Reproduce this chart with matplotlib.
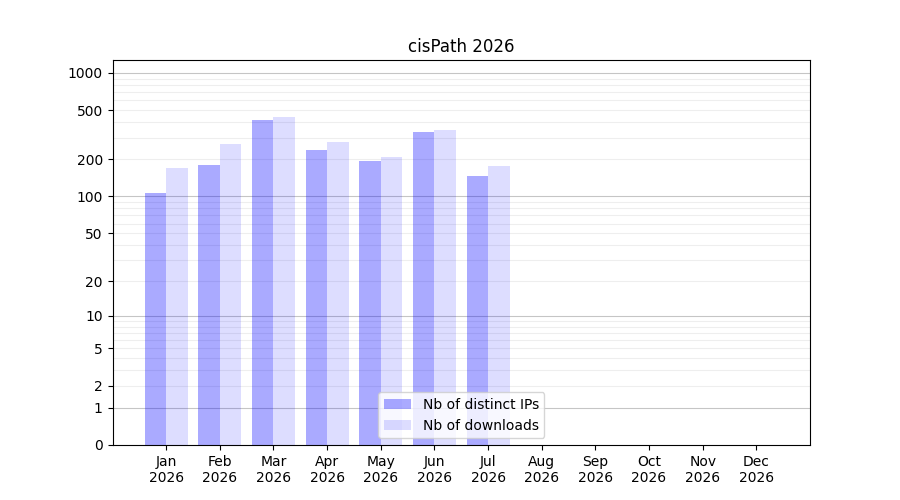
import numpy as np
import matplotlib
matplotlib.use("Agg")
import matplotlib.pyplot as plt
from matplotlib.ticker import FixedLocator, FixedFormatter

months = ["Jan", "Feb", "Mar", "Apr", "May", "Jun", "Jul", "Aug", "Sep", "Oct", "Nov", "Dec"]
year = "2026"
distinct_ips = [107, 180, 417, 238, 194, 333, 147, 0, 0, 0, 0, 0]
downloads = [170, 266, 441, 277, 209, 346, 177, 0, 0, 0, 0, 0]
ytick_values = [0, 1, 2, 5, 10, 20, 50, 100, 200, 500, 1000]

def fwd(v):
    return np.log10(1 + np.clip(v, 0, None))

def inv(v):
    return 10 ** v - 1

fig, ax = plt.subplots(figsize=(9, 5), dpi=100)
x = np.arange(len(months))
ax.bar(x, distinct_ips, width=-0.4, align="edge", color="blue", alpha=0.333,
       label="Nb of distinct IPs", zorder=2)
ax.bar(x, downloads, width=0.4, align="edge", color="blue", alpha=0.133,
       label="Nb of downloads", zorder=2)

ax.set_yscale("function", functions=(fwd, inv))
ax.set_ylim(0, 1270)
ax.set_xlim(-1, 12)

ax.yaxis.set_major_locator(FixedLocator(ytick_values))
ax.yaxis.set_major_formatter(FixedFormatter([str(v) for v in ytick_values]))
ax.yaxis.set_minor_locator(FixedLocator([]))

major_grid = [1, 10, 100, 1000]
minor_grid = [m * d for d in (1, 10, 100) for m in range(2, 10)]
for g in major_grid:
    ax.axhline(g, color="gray", alpha=0.45, lw=0.8, zorder=1)
for g in minor_grid:
    ax.axhline(g, color="gray", alpha=0.13, lw=0.8, zorder=1)

ax.set_xticks(x)
ax.set_xticklabels([f"{m}\n{year}" for m in months])
ax.set_title("cisPath 2026")
ax.legend(loc="lower center")

fig.savefig("out.png", dpi=100)
